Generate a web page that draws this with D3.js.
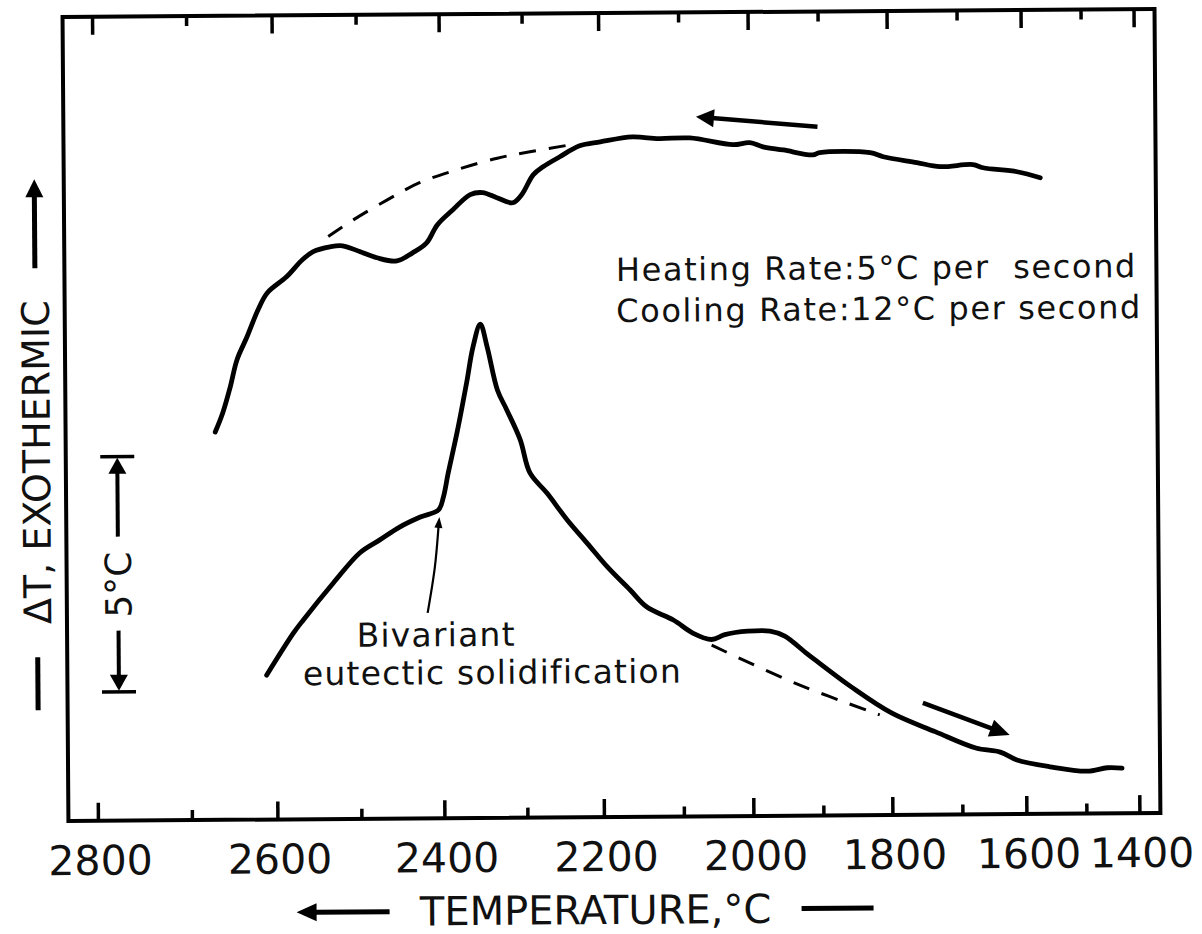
<!DOCTYPE html>
<html>
<head>
<meta charset="utf-8">
<script src="https://cdn.jsdelivr.net/npm/d3@7"></script>
<style>
  body { margin: 0; background: #fff; }
  svg { display: block; }
  text { font-family: "DejaVu Sans", sans-serif; fill: #111; }
</style>
</head>
<body>
<script>
width  = 1202
height = 934

// temperature axis ticks (the scale on the original is not linear)
var majorTicks = [2800, 2600, 2400, 2200, 2000, 1800, 1600, 1400];
var minorTicks = [2700, 2500, 2300, 2100, 1900, 1700, 1500];

// heating trace (upper curve), temperature in degC, deltaT in degC
var heatT  = [2670, 2661, 2652, 2644, 2632, 2619, 2608, 2585, 2566, 2553, 2533, 2518, 2497, 2477, 2453,
              2434, 2417, 2404, 2385, 2364, 2349, 2332, 2313, 2302, 2287, 2274, 2252, 2226, 2199, 2159,
              2126, 2085, 2023, 1999, 1980, 1951, 1909, 1899, 1826, 1807, 1759, 1726, 1677, 1661, 1608, 1570];
var heatDT = [8.25, 8.66, 9.21, 9.78, 10.27, 10.84, 11.2, 11.54, 11.9, 12.07, 12.17, 12.19, 12.06, 11.93, 11.86,
              12.03, 12.24, 12.62, 12.94, 13.26, 13.3, 13.19, 13.08, 13.25, 13.67, 13.84, 14.05, 14.28, 14.36, 14.46,
              14.42, 14.43, 14.28, 14.32, 14.23, 14.16, 14.05, 14.1, 14.09, 14.0, 13.87, 13.78, 13.82, 13.75, 13.66, 13.53];

// dashed baseline under the heating trace
var heatBaseT  = [2535, 2505, 2464, 2425, 2380, 2331, 2291, 2239];
var heatBaseDT = [12.39, 12.74, 13.16, 13.52, 13.79, 14.03, 14.16, 14.3];

// cooling trace (lower curve)
var coolT  = [2612, 2580, 2568, 2532, 2500, 2476, 2452, 2427, 2405, 2399, 2393, 2382, 2370, 2362, 2353,
              2345, 2333, 2322, 2306, 2294, 2272, 2246, 2220, 2194, 2166, 2145, 2112, 2086, 2059, 2040,
              2007, 1975, 1954, 1924, 1911, 1859, 1801, 1738, 1679, 1641, 1615, 1561, 1499, 1461, 1433];
var coolDT = [3.07, 3.96, 4.24, 5.02, 5.66, 5.93, 6.2, 6.41, 6.56, 6.83, 7.34, 8.2, 9.26, 10.02, 10.5,
              10.02, 9.1, 8.68, 8.04, 7.33, 6.9, 6.33, 5.83, 5.32, 4.83, 4.46, 4.18, 3.9, 3.76, 3.86,
              3.93, 3.93, 3.82, 3.46, 3.31, 2.73, 2.17, 1.76, 1.41, 1.32, 1.15, 1.0, 0.9, 0.97, 0.96];

// dashed baseline under the cooling hump
var coolBaseT  = [2059, 1940, 1818];
var coolBaseDT = [3.64, 2.82, 2.13];

// direction arrows and the annotation pointer
var arrowHeatT = [1902, 2076], arrowHeatDT = [14.65, 14.88];
var arrowCoolT = [1756, 1626], arrowCoolDT = [2.38, 1.68];
var pointerT   = [2419, 2410, 2404], pointerDT = [4.37, 5.33, 6.41];

// 5 degC scale bar
var barBase = 2.74, barSpan = 5;

// frame edges (window.top is taken, so prefix them)
var fLeft = 65.5, fRight = 1157.5, fTop = 13, fBottom = 817;

// pyrometer scale, piecewise linear through the printed ticks
var x = d3.scaleLinear()
    .domain([2800, 2700, 2600, 2500, 2400, 2300, 2200, 2100, 2000, 1900, 1800, 1700, 1600, 1500, 1400])
    .range([95.5, 189.5, 275, 359, 442, 525, 601.5, 681.5, 751, 821, 890, 960, 1024, 1084, 1137]);

var y = d3.scaleLinear().domain([0, 17.1]).range([fBottom, fTop]);

const svg = d3.select('body').append('svg')
  .attr('width', width)
  .attr('height', height);

// the scanned figure sits slightly tilted
const g = svg.append('g').attr('transform', 'rotate(-0.42, 611, 419)');

function pts(ts, ds) { return ts.map((t, i) => [x(t), y(ds[i])]); }

var smooth = d3.line().curve(d3.curveCatmullRom.alpha(0.5));

function arrowHead(sel, x1, y1, x2, y2, len, half) {
  var a = Math.atan2(y2 - y1, x2 - x1);
  var bx = x2 - len * Math.cos(a), by = y2 - len * Math.sin(a);
  var px = -Math.sin(a) * half, py = Math.cos(a) * half;
  sel.append('path')
    .attr('d', `M${x2},${y2}L${bx + px},${by + py}L${bx - px},${by - py}Z`)
    .attr('fill', '#000');
  return [bx + 2 * Math.cos(a), by + 2 * Math.sin(a)];
}

function arrow(sel, x1, y1, x2, y2, w, len, half) {
  var b = arrowHead(sel, x1, y1, x2, y2, len, half);
  sel.append('line')
    .attr('x1', x1).attr('y1', y1).attr('x2', b[0]).attr('y2', b[1])
    .attr('stroke', '#000').attr('stroke-width', w);
}

// frame
g.append('rect')
  .attr('x', fLeft).attr('y', fTop)
  .attr('width', fRight - fLeft).attr('height', fBottom - fTop)
  .attr('fill', 'none').attr('stroke', '#000').attr('stroke-width', 4);

// ticks on both edges, pointing inward
var ticks = majorTicks.map(d => ({v: d, len: 18})).concat(minorTicks.map(d => ({v: d, len: 10})));
var tg = g.append('g').attr('stroke', '#000').attr('stroke-width', 3.5);
tg.selectAll('line.bt')
  .data(ticks)
  .join('line')
    .attr('class', 'bt')
    .attr('x1', d => x(d.v)).attr('x2', d => x(d.v))
    .attr('y1', fBottom).attr('y2', d => fBottom - d.len);
tg.selectAll('line.tt')
  .data(ticks)
  .join('line')
    .attr('class', 'tt')
    .attr('x1', d => x(d.v)).attr('x2', d => x(d.v))
    .attr('y1', fTop).attr('y2', d => fTop + d.len);

// tick labels, right edge sits a fixed step past each tick as printed
g.append('g').selectAll('text')
  .data(majorTicks)
  .join('text')
    .attr('x', d => x(d) + 54)
    .attr('y', fBottom + 54)
    .attr('text-anchor', 'end')
    .attr('font-size', 41)
    .text(d => d);

// x title with its arrow
g.append('text')
  .attr('x', 592).attr('y', 924)
  .attr('text-anchor', 'middle')
  .attr('font-size', 40)
  .text('TEMPERATURE,°C');
arrow(g, 386, 910, 293, 910, 5, 20, 9);
g.append('line').attr('x1', 798).attr('x2', 870).attr('y1', 910).attr('y2', 910)
  .attr('stroke', '#000').attr('stroke-width', 5);

// y title with its arrow
var yl = g.append('g').attr('transform', 'translate(36,458) rotate(-90)');
yl.append('text')
  .attr('x', 0).attr('dy', '0.36em')
  .attr('text-anchor', 'middle')
  .attr('font-size', 38)
  .text('ΔT, EXOTHERMIC');
arrow(yl, 194, 0, 283, 0, 5, 18, 9);
yl.append('line').attr('x1', -195).attr('x2', -248).attr('y1', 0).attr('y2', 0)
  .attr('stroke', '#000').attr('stroke-width', 5);

// 5 degC scale bar
var bx = 117, yTop = y(barBase + barSpan), yBot = y(barBase);
[yTop, yBot].forEach(v => g.append('line')
  .attr('x1', bx - 17).attr('x2', bx + 17).attr('y1', v).attr('y2', v)
  .attr('stroke', '#000').attr('stroke-width', 3.5));
arrow(g, bx, 533, bx, yTop + 1, 4, 16, 9);
arrow(g, bx, 627, bx, yBot - 1, 4, 16, 9);
g.append('text')
  .attr('transform', `translate(${bx},581) rotate(-90)`)
  .attr('dy', '0.36em')
  .attr('text-anchor', 'middle')
  .attr('font-size', 36)
  .text('5°C');

// traces
g.append('path')
  .attr('d', smooth(pts(heatT, heatDT)))
  .attr('fill', 'none').attr('stroke', '#000').attr('stroke-width', 4.8)
  .attr('stroke-linecap', 'round').attr('stroke-linejoin', 'round');

g.append('path')
  .attr('d', smooth(pts(coolT, coolDT)))
  .attr('fill', 'none').attr('stroke', '#000').attr('stroke-width', 4.8)
  .attr('stroke-linecap', 'round').attr('stroke-linejoin', 'round');

g.append('path')
  .attr('d', smooth(pts(heatBaseT, heatBaseDT)))
  .attr('fill', 'none').attr('stroke', '#000').attr('stroke-width', 3)
  .attr('stroke-dasharray', '17 13');

g.append('path')
  .attr('d', smooth(pts(coolBaseT, coolBaseDT)))
  .attr('fill', 'none').attr('stroke', '#000').attr('stroke-width', 3)
  .attr('stroke-dasharray', '17 13');

// direction arrows
arrow(g, x(arrowHeatT[0]), y(arrowHeatDT[0]), x(arrowHeatT[1]), y(arrowHeatDT[1]), 4.5, 18, 9);
arrow(g, x(arrowCoolT[0]), y(arrowCoolDT[0]), x(arrowCoolT[1]), y(arrowCoolDT[1]), 4.5, 20, 9);

// annotation pointer
var pp = pts(pointerT, pointerDT);
var n = pp.length;
var tip = arrowHead(g, pp[n - 2][0], pp[n - 2][1], pp[n - 1][0], pp[n - 1][1], 11, 4);
g.append('path')
  .attr('d', d3.line().curve(d3.curveCatmullRom)(pp.slice(0, n - 1).concat([tip])))
  .attr('fill', 'none').attr('stroke', '#000').attr('stroke-width', 2.2);

// labels
g.append('text')
  .attr('x', 617).attr('y', 281)
  .attr('font-size', 32).attr('letter-spacing', 1.6)
  .style('white-space', 'pre')
  .text('Heating Rate:5°C per  second');
g.append('text')
  .attr('x', 617).attr('y', 322)
  .attr('font-size', 32).attr('letter-spacing', 1.6)
  .text('Cooling Rate:12°C per second');

g.append('text')
  .attr('x', 355).attr('y', 645)
  .attr('font-size', 33).attr('letter-spacing', 1.2)
  .text('Bivariant');
g.append('text')
  .attr('x', 301).attr('y', 683)
  .attr('font-size', 33).attr('letter-spacing', 1.2)
  .text('eutectic solidification');
</script>
</body>
</html>
